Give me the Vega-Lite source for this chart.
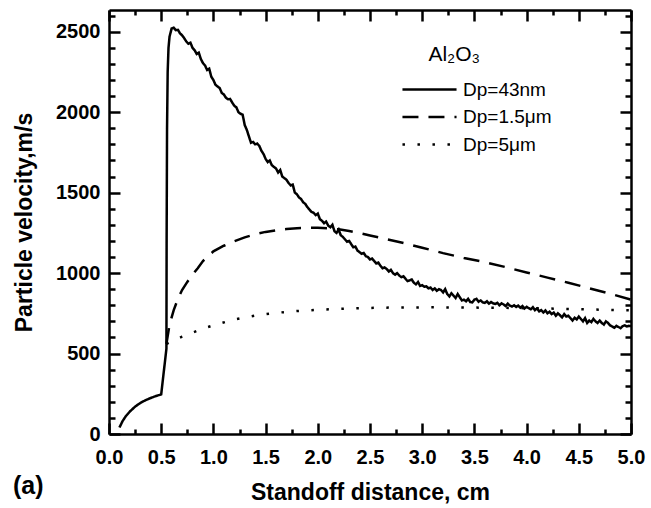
{
"$schema": "https://vega.github.io/schema/vega-lite/v6.json",
"width": 522, "height": 424,
"autosize": {"type": "none"},
"padding": {"left": 109, "top": 10, "right": 20, "bottom": 74},
"config": {"font": "Liberation Sans", "view": {"stroke": null}},
"title": {"text": "(a)", "orient": "bottom", "anchor": "start", "frame": "bounds", "fontSize": 25, "fontWeight": "bold", "font": "Liberation Sans", "offset": -30, "dx": 0},
"datasets": {
"solid": [
{"d":0.10,"v":40},{"d":0.13,"v":80},{"d":0.16,"v":110},{"d":0.20,"v":140},{"d":0.25,"v":170},{"d":0.30,"v":193},{"d":0.35,"v":210},{"d":0.40,"v":224},{"d":0.45,"v":236},{"d":0.50,"v":246},
{"d":0.55,"v":530},{"d":0.552,"v":1200},{"d":0.556,"v":1900},{"d":0.562,"v":2250},{"d":0.57,"v":2400},{"d":0.58,"v":2470},{"d":0.60,"v":2520},{"d":0.62,"v":2525},{"d":0.64,"v":2510},{"d":0.66,"v":2512},{"d":0.68,"v":2490},{"d":0.70,"v":2478},{"d":0.72,"v":2460},{"d":0.74,"v":2440},{"d":0.76,"v":2425},{"d":0.78,"v":2432},{"d":0.80,"v":2400},{"d":0.82,"v":2385},{"d":0.84,"v":2362},{"d":0.86,"v":2370},{"d":0.88,"v":2330},{"d":0.90,"v":2305},{"d":0.92,"v":2290},{"d":0.94,"v":2262},{"d":0.96,"v":2270},{"d":0.98,"v":2220},
{"d":1.00,"v":2200},{"d":1.02,"v":2170},{"d":1.04,"v":2160},{"d":1.06,"v":2150},{"d":1.08,"v":2120},{"d":1.10,"v":2110},{"d":1.12,"v":2090},{"d":1.14,"v":2080},{"d":1.16,"v":2082},{"d":1.18,"v":2060},{"d":1.20,"v":2040},{"d":1.22,"v":2030},{"d":1.24,"v":2000},{"d":1.26,"v":1990},{"d":1.28,"v":1985},{"d":1.30,"v":1920},{"d":1.32,"v":1890},{"d":1.34,"v":1850},{"d":1.36,"v":1810},{"d":1.38,"v":1815},{"d":1.40,"v":1800},{"d":1.42,"v":1805},{"d":1.44,"v":1790},{"d":1.46,"v":1760},{"d":1.48,"v":1740},
{"d":1.50,"v":1710},{"d":1.52,"v":1690},{"d":1.54,"v":1700},{"d":1.56,"v":1670},{"d":1.58,"v":1660},{"d":1.60,"v":1650},{"d":1.62,"v":1625},{"d":1.64,"v":1640},{"d":1.66,"v":1600},{"d":1.68,"v":1590},{"d":1.70,"v":1580},{"d":1.72,"v":1560},{"d":1.74,"v":1545},{"d":1.76,"v":1550},{"d":1.78,"v":1500},{"d":1.80,"v":1490},{"d":1.82,"v":1470},{"d":1.84,"v":1460},{"d":1.86,"v":1440},{"d":1.88,"v":1430},{"d":1.90,"v":1410},{"d":1.92,"v":1395},{"d":1.94,"v":1380},{"d":1.96,"v":1375},{"d":1.98,"v":1360},
{"d":2.00,"v":1370},{"d":2.02,"v":1335},{"d":2.04,"v":1325},{"d":2.06,"v":1310},{"d":2.08,"v":1320},{"d":2.10,"v":1295},{"d":2.12,"v":1285},{"d":2.14,"v":1300},{"d":2.16,"v":1260},{"d":2.18,"v":1250},{"d":2.20,"v":1270},{"d":2.22,"v":1235},{"d":2.24,"v":1225},{"d":2.26,"v":1210},{"d":2.28,"v":1195},{"d":2.30,"v":1200},{"d":2.32,"v":1180},{"d":2.34,"v":1160},{"d":2.36,"v":1165},{"d":2.38,"v":1140},{"d":2.40,"v":1130},{"d":2.42,"v":1120},{"d":2.44,"v":1125},{"d":2.46,"v":1105},{"d":2.48,"v":1100},
{"d":2.50,"v":1085},{"d":2.52,"v":1090},{"d":2.54,"v":1075},{"d":2.56,"v":1060},{"d":2.58,"v":1065},{"d":2.60,"v":1045},{"d":2.62,"v":1030},{"d":2.64,"v":1035},{"d":2.66,"v":1025},{"d":2.68,"v":1010},{"d":2.70,"v":1020},{"d":2.72,"v":1000},{"d":2.74,"v":990},{"d":2.76,"v":1000},{"d":2.78,"v":985},{"d":2.80,"v":975},{"d":2.82,"v":980},{"d":2.84,"v":965},{"d":2.86,"v":950},{"d":2.88,"v":955},{"d":2.90,"v":960},{"d":2.92,"v":940},{"d":2.94,"v":930},{"d":2.96,"v":945},{"d":2.98,"v":920},
{"d":3.00,"v":925},{"d":3.02,"v":915},{"d":3.04,"v":918},{"d":3.06,"v":905},{"d":3.08,"v":910},{"d":3.10,"v":895},{"d":3.12,"v":905},{"d":3.14,"v":890},{"d":3.16,"v":900},{"d":3.18,"v":895},{"d":3.20,"v":880},{"d":3.22,"v":900},{"d":3.24,"v":870},{"d":3.26,"v":855},{"d":3.28,"v":875},{"d":3.30,"v":860},{"d":3.32,"v":845},{"d":3.34,"v":870},{"d":3.36,"v":850},{"d":3.38,"v":830},{"d":3.40,"v":835},{"d":3.42,"v":825},{"d":3.44,"v":840},{"d":3.46,"v":820},{"d":3.48,"v":818},
{"d":3.50,"v":835},{"d":3.52,"v":840},{"d":3.54,"v":822},{"d":3.56,"v":830},{"d":3.58,"v":818},{"d":3.60,"v":815},{"d":3.62,"v":825},{"d":3.64,"v":810},{"d":3.66,"v":820},{"d":3.68,"v":812},{"d":3.70,"v":808},{"d":3.72,"v":815},{"d":3.74,"v":800},{"d":3.76,"v":812},{"d":3.78,"v":805},{"d":3.80,"v":795},{"d":3.82,"v":810},{"d":3.84,"v":798},{"d":3.86,"v":792},{"d":3.88,"v":800},{"d":3.90,"v":790},{"d":3.92,"v":798},{"d":3.94,"v":785},{"d":3.96,"v":795},{"d":3.98,"v":780},
{"d":4.00,"v":790},{"d":4.02,"v":782},{"d":4.04,"v":775},{"d":4.06,"v":788},{"d":4.08,"v":770},{"d":4.10,"v":780},{"d":4.12,"v":762},{"d":4.14,"v":770},{"d":4.16,"v":755},{"d":4.18,"v":768},{"d":4.20,"v":750},{"d":4.22,"v":760},{"d":4.24,"v":745},{"d":4.26,"v":755},{"d":4.28,"v":735},{"d":4.30,"v":750},{"d":4.32,"v":738},{"d":4.34,"v":725},{"d":4.36,"v":745},{"d":4.38,"v":730},{"d":4.40,"v":735},{"d":4.42,"v":720},{"d":4.44,"v":705},{"d":4.46,"v":722},{"d":4.48,"v":712},
{"d":4.50,"v":730},{"d":4.52,"v":715},{"d":4.54,"v":700},{"d":4.56,"v":720},{"d":4.58,"v":690},{"d":4.60,"v":705},{"d":4.62,"v":695},{"d":4.64,"v":715},{"d":4.66,"v":700},{"d":4.68,"v":690},{"d":4.70,"v":705},{"d":4.72,"v":690},{"d":4.74,"v":680},{"d":4.76,"v":700},{"d":4.78,"v":690},{"d":4.80,"v":675},{"d":4.82,"v":668},{"d":4.84,"v":660},{"d":4.86,"v":672},{"d":4.88,"v":665},{"d":4.90,"v":658},{"d":4.92,"v":670},{"d":4.94,"v":675},{"d":4.96,"v":668},{"d":4.98,"v":672},{"d":5.00,"v":670}
],
"dashed": [
{"d":0.55,"v":560},{"d":0.58,"v":680},{"d":0.62,"v":770},{"d":0.66,"v":840},{"d":0.70,"v":895},{"d":0.75,"v":945},{"d":0.80,"v":990},{"d":0.85,"v":1030},{"d":0.90,"v":1075},{"d":0.95,"v":1105},{"d":1.0,"v":1135},{"d":1.1,"v":1170},{"d":1.2,"v":1198},{"d":1.3,"v":1222},{"d":1.4,"v":1242},{"d":1.5,"v":1256},{"d":1.6,"v":1266},{"d":1.7,"v":1274},{"d":1.8,"v":1279},{"d":1.9,"v":1282},{"d":2.0,"v":1282},{"d":2.1,"v":1278},{"d":2.2,"v":1272},{"d":2.3,"v":1262},{"d":2.4,"v":1249},{"d":2.5,"v":1234},{"d":2.6,"v":1220},{"d":2.8,"v":1190},{"d":3.0,"v":1158},{"d":3.2,"v":1124},{"d":3.4,"v":1094},{"d":3.6,"v":1068},{"d":3.8,"v":1037},{"d":4.0,"v":1004},{"d":4.2,"v":972},{"d":4.4,"v":940},{"d":4.6,"v":906},{"d":4.8,"v":872},{"d":5.0,"v":835}
],
"dotted": [
{"d":0.55,"v":560},{"d":0.6,"v":575},{"d":0.7,"v":605},{"d":0.8,"v":630},{"d":0.9,"v":655},{"d":1.0,"v":675},{"d":1.2,"v":712},{"d":1.4,"v":736},{"d":1.6,"v":753},{"d":1.8,"v":764},{"d":2.0,"v":772},{"d":2.2,"v":778},{"d":2.4,"v":782},{"d":2.6,"v":785},{"d":2.8,"v":786},{"d":3.0,"v":787},{"d":3.2,"v":787},{"d":3.4,"v":786},{"d":3.6,"v":785},{"d":3.8,"v":784},{"d":4.0,"v":782},{"d":4.2,"v":780},{"d":4.4,"v":777},{"d":4.6,"v":774},{"d":4.8,"v":771},{"d":5.0,"v":768}
]
},
"layer": [
{
"encoding": {
"x": {"field": "d", "type": "quantitative", "scale": {"domain": [0, 5], "nice": false},
 "axis": {"orient": "bottom", "title": "Standoff distance, cm", "values": [0,0.25,0.5,0.75,1,1.25,1.5,1.75,2,2.25,2.5,2.75,3,3.25,3.5,3.75,4,4.25,4.5,4.75,5],
  "labelExpr": "datum.value % 0.5 == 0 ? format(datum.value, '.1f') : ''",
  "tickSize": {"condition": {"test": "datum.value % 0.5 == 0", "value": -11}, "value": -5},
  "tickWidth": 2.5, "tickColor": "black", "domainColor": "black", "domainWidth": 2.5,
  "labelPadding": 24, "labelFontSize": 20, "labelFontWeight": "bold", "labelColor": "black", "labelFlush": false, "labelOverlap": false, "labelBound": false,
  "titleFontSize": 23, "titleFontWeight": "bold", "titleColor": "black", "titleY": 58, "titleBaseline": "middle", "grid": false}},
"y": {"field": "v", "type": "quantitative", "scale": {"domain": [0, 2635], "nice": false, "zero": true},
 "axis": {"orient": "left", "title": "Particle velocity,m/s", "values": [0,100,200,300,400,500,600,700,800,900,1000,1100,1200,1300,1400,1500,1600,1700,1800,1900,2000,2100,2200,2300,2400,2500,2600],
  "labelExpr": "datum.value % 500 == 0 ? format(datum.value, 'd') : ''",
  "tickSize": {"condition": {"test": "datum.value % 500 == 0", "value": -11}, "value": -6},
  "tickWidth": 2.5, "tickColor": "black", "domainColor": "black", "domainWidth": 2.5,
  "labelPadding": 20, "labelFontSize": 20, "labelFontWeight": "bold", "labelColor": "black", "labelFlush": false, "labelOverlap": false, "labelBound": false,
  "titleFontSize": 23, "titleFontWeight": "bold", "titleColor": "black", "titleX": -85, "titleBaseline": "middle", "grid": false}}
},
"layer": [
{
"data": {"name": "solid"},
"mark": {"type": "line", "color": "black", "strokeWidth": 2.5, "clip": true},
"encoding": {
"strokeDash": {"datum": "Dp=43nm", "type": "nominal",
 "scale": {"domain": ["Dp=43nm", "Dp=1.5μm", "Dp=5μm"], "range": [[1, 0], [16, 10], [2.5, 12.5]]},
 "legend": {"orient": "none", "legendX": 311, "legendY": 34, "title": "\u200b\u2009\u2009Al₂O₃", "titleFontSize": 21, "titleFontWeight": "normal", "titleColor": "black", "titlePadding": 15,
  "symbolType": "M-5,0H5", "symbolSize": 117, "symbolStrokeWidth": 2.5, "symbolStrokeColor": "black",
  "labelFontSize": 19, "labelColor": "black", "labelOffset": 24, "rowPadding": 7.5}}
}
},
{
"data": {"name": "dashed"},
"mark": {"type": "line", "color": "black", "strokeWidth": 2.5, "clip": true},
"encoding": {"strokeDash": {"datum": "Dp=1.5μm", "type": "nominal"}}
},
{
"data": {"name": "dotted"},
"mark": {"type": "line", "color": "black", "strokeWidth": 2.5, "clip": true},
"encoding": {"strokeDash": {"datum": "Dp=5μm", "type": "nominal"}}
}
]
},
{
"data": {"name": "dotted"},
"mark": {"type": "point", "opacity": 0},
"encoding": {
"x": {"field": "d", "type": "quantitative",
 "axis": {"orient": "top", "title": null, "values": [0,0.25,0.5,0.75,1,1.25,1.5,1.75,2,2.25,2.5,2.75,3,3.25,3.5,3.75,4,4.25,4.5,4.75,5], "labels": false,
  "tickSize": {"condition": {"test": "datum.value % 0.5 == 0", "value": -11}, "value": -5},
  "tickWidth": 2.5, "tickColor": "black", "domainColor": "black", "domainWidth": 2.5, "grid": false}},
"y": {"field": "v", "type": "quantitative",
 "axis": {"orient": "right", "title": null, "values": [0,100,200,300,400,500,600,700,800,900,1000,1100,1200,1300,1400,1500,1600,1700,1800,1900,2000,2100,2200,2300,2400,2500,2600], "labels": false,
  "tickSize": {"condition": {"test": "datum.value % 500 == 0", "value": -11}, "value": -6},
  "tickWidth": 2.5, "tickColor": "black", "domainColor": "black", "domainWidth": 2.5, "grid": false}}
}
}
],
"resolve": {"axis": {"x": "independent", "y": "independent"}}
}
